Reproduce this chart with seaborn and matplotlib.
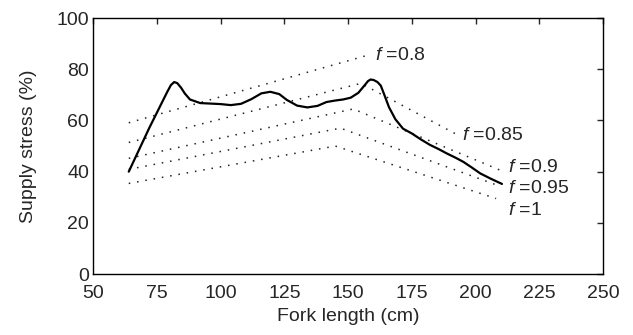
import numpy as np
import pandas as pd
import matplotlib
matplotlib.use("Agg")
import matplotlib.pyplot as plt
import seaborn as sns

# solid curve: supply stress vs fork length
fork_len = [64, 68, 72, 76, 79, 80.5, 81.8, 83, 84.5, 86, 88, 92, 96, 100, 104, 108, 112,
            116, 119.5, 123, 126, 130, 134, 138, 141.5, 145, 148, 151, 154, 156.5,
            157.8, 158.8, 160, 161.5, 162.8, 164, 166, 168.5, 171.5, 175, 178.5, 182,
            185.5, 188.7, 192, 195.2, 198.5, 201.8, 206, 210.3]
stress = [40, 48.5, 57, 65, 71, 73.8, 75, 74.6, 72.8, 70.5, 68.2, 66.8, 66.6, 66.4, 66,
          66.5, 68.3, 70.6, 71.2, 70.3, 68, 65.8, 65.1, 65.7, 67.2, 67.8, 68.2, 68.9,
          70.8, 73.8, 75.4, 76, 75.8, 75, 73.6, 70.5, 65.2, 60.5, 56.8, 54.9, 52.6,
          50.5, 48.8, 47.1, 45.5, 43.8, 41.6, 39.3, 37.2, 35.2]

# dotted reference lines for different f
f_labels = ["0.8", "0.85", "0.9", "0.95", "1"]
f_x = [[64, 157], [64, 155, 193], [64, 152, 211], [64, 147, 209], [64, 145, 208]]
f_y = [[59.1, 85.3], [51.4, 74.5, 54.3], [45.2, 64.5, 40.0], [40.9, 57.0, 34.5],
       [35.4, 50.0, 29.5]]
label_x = [160.5, 194.5, 212.5, 212.5, 212.5]
label_y = [85.5, 54.3, 41.8, 33.6, 25.0]

sns.set_style("white")
plt.rcParams['font.family'] = ['Liberation Sans', 'DejaVu Sans']
plt.rcParams['mathtext.fontset'] = 'custom'
plt.rcParams['mathtext.it'] = 'Liberation Sans:italic'
plt.rcParams['mathtext.rm'] = 'Liberation Sans'

fig = plt.figure(figsize=(6.33, 3.35), dpi=100)
ax = fig.add_axes([0.147, 0.182, 0.806, 0.764])

for xs, ys in zip(f_x, f_y):
    d = pd.DataFrame({"x": xs, "y": ys})
    sns.lineplot(data=d, x="x", y="y", ax=ax, color="#222222", lw=1.1,
                 linestyle=(0, (1, 4.5)), sort=False, estimator=None)

df = pd.DataFrame({"Fork length": fork_len, "Supply stress": stress})
sns.lineplot(data=df, x="Fork length", y="Supply stress", ax=ax, color="black",
             lw=1.6, sort=False, estimator=None)

for lab, lx, ly in zip(f_labels, label_x, label_y):
    ax.text(lx, ly, r"$\mathit{f}$ =" + lab, fontsize=14, va="center", ha="left")

ax.set_xlim(50, 250)
ax.set_ylim(0, 100)
ax.set_xticks(np.arange(50, 251, 25))
ax.set_yticks(np.arange(0, 101, 20))
ax.tick_params(direction="in", length=4, width=1, top=True, right=True,
               labelsize=14, pad=3)
ax.tick_params(axis="x", pad=8)
for s in ax.spines.values():
    s.set_linewidth(1.0)
    s.set_color("black")
ax.set_xlabel("Fork length (cm)", fontsize=14, labelpad=4)
ax.set_ylabel("Supply stress (%)", fontsize=14, labelpad=14)

fig.savefig("out.png", dpi=100)
